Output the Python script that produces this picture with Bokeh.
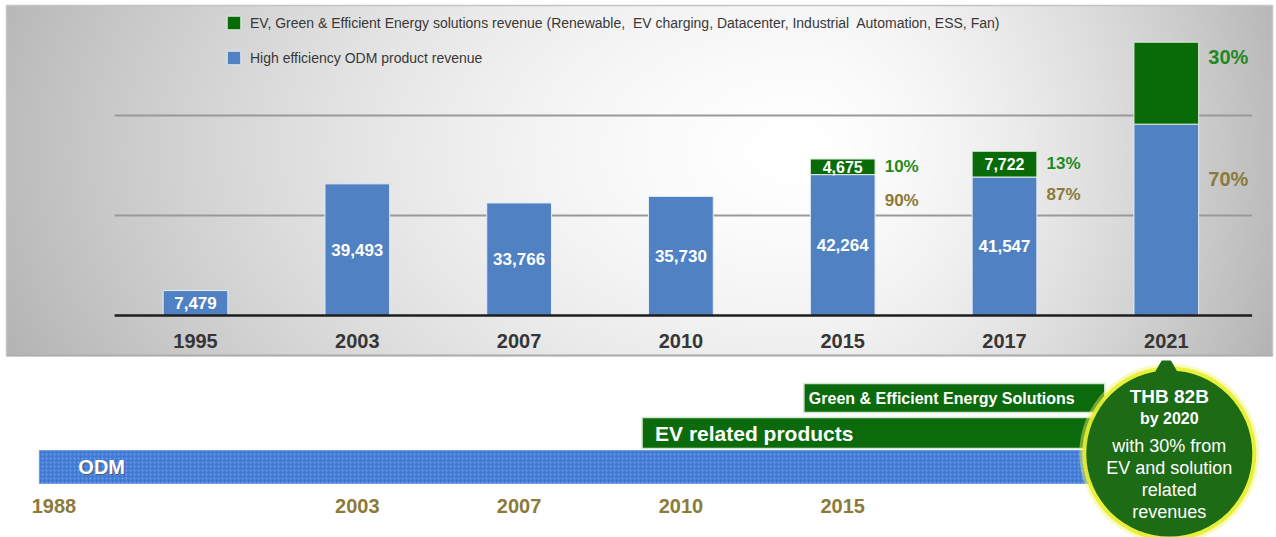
import numpy as np
from bokeh.plotting import figure
from bokeh.models import Range1d, ColumnDataSource, Legend, LegendItem
from bokeh.layouts import column
from bokeh.embed import file_html
from bokeh.resources import INLINE
from bokeh.core.properties import value

# ---------------- data ----------------
years = ["1995", "2003", "2007", "2010", "2015", "2017", "2021"]
odm_revenue = [7479, 39493, 33766, 35730, 42264, 41547, 57400]
green_revenue = [0, 0, 0, 0, 4675, 7722, 24600]
odm_labels = ["7,479", "39,493", "33,766", "35,730", "42,264", "41,547", ""]
green_labels = ["", "", "", "", "4,675", "7,722", ""]
green_share = ["", "", "", "", "10%", "13%", "30%"]
odm_share = ["", "", "", "", "90%", "87%", "70%"]
gridline_values = [30000, 60000]
legend_labels = [
    "EV, Green & Efficient Energy solutions revenue (Renewable,  EV charging, Datacenter, Industrial  Automation, ESS, Fan)",
    "High efficiency ODM product revenue",
]

timeline_years = ["1988", "2003", "2007", "2010", "2015"]
programs = ["ODM", "EV related products", "Green & Efficient Energy Solutions"]
program_start = [1988, 2010, 2015]
callout_lines = ["THB 82B", "by 2020", "with 30% from", "EV and solution", "related", "revenues"]

# ---------------- styles ----------------
FONT = value("Liberation Sans")
BLUE = "#4f81c3"
GREEN = "#086b08"
PCT_GREEN = "#1f8a1f"
OLIVE = "#8b7a3a"
CALLOUT = "#1d6b14"

W, H1, H2 = 1276, 360, 177
PX_PER_CAT = 161.8      # horizontal spacing of categories (px)
FIRST_CAT_PX = 195      # screen x of first category
BASE_PX = 315           # screen y of the zero line
VAL_PER_PX = 300        # revenue units per pixel

ix = np.arange(len(years), dtype=float)
yr = np.array([int(y) for y in years], dtype=float)


def tpos(y):
    if y < yr[0]:
        return (y - yr[0]) / (yr[1] - yr[0])
    return float(np.interp(y, yr, ix))


def px2x(px):
    return (px - FIRST_CAT_PX) / PX_PER_CAT


def py2y(py):
    return (BASE_PX - py) * VAL_PER_PX


xr = Range1d(px2x(0), px2x(W))
p1 = figure(width=W, height=H1, x_range=xr, y_range=Range1d(py2y(H1), py2y(0)),
            x_axis_type=None, y_axis_type=None, toolbar_location=None,
            output_backend="svg", min_border=0, outline_line_color=None,
            background_fill_color="white", border_fill_color="white")

# gradient panel background (box from px 6..1272, 5..355)
bx0, bx1, by0, by1 = 6, 1272, 5, 355
gh, gw = 175, 633
xs = np.linspace(bx0, bx1, gw)
ys = np.linspace(by1, by0, gh)  # row 0 = bottom
X, Y = np.meshgrid(xs, ys)
cx, cy = 800.0, 150.0
dx = np.where(X < cx, (X - cx) / (cx - bx0), (X - cx) / (bx1 - cx))
dy = (Y - cy) / 350.0
d = np.sqrt(dx ** 2 + 0.5 * dy ** 2)
inten = 1 - 0.26 * np.clip(d, 0, 1.3) ** 1.6
g = (np.clip(inten, 0, 1) * 255).astype(np.uint8)
img = np.empty((gh, gw), dtype=np.uint32)
view = img.view(dtype=np.uint8).reshape((gh, gw, 4))
view[..., 0] = g
view[..., 1] = g
view[..., 2] = g
view[..., 3] = 255
p1.image_rgba(image=[img], x=px2x(bx0), y=py2y(by1), dw=px2x(bx1) - px2x(bx0),
              dh=py2y(by0) - py2y(by1))
p1.quad(left=[px2x(bx0)], right=[px2x(bx1)], top=[py2y(by0)], bottom=[py2y(by1)],
        fill_alpha=0, line_color="#c4c4c4", line_width=1.5)
p1.segment(x0=[px2x(bx0)], x1=[px2x(bx1)], y0=[py2y(by1)], y1=[py2y(by1)],
           line_color="#adadad", line_width=2)

chart_left, chart_right = -0.5, len(years) - 0.47
p1.segment(x0=[chart_left] * len(gridline_values), x1=[chart_right] * len(gridline_values),
           y0=gridline_values, y1=gridline_values, line_color="#999999", line_width=2)

src = ColumnDataSource(dict(x=ix, odm=odm_revenue, mid=np.array(odm_revenue) / 2, lab=odm_labels))
blue_r = p1.vbar(x="x", top="odm", bottom=0, width=0.4, source=src, fill_color=BLUE,
                 line_color="#e6edf7", line_width=1)

gi = [i for i, v in enumerate(green_revenue) if v > 0]
gsrc = ColumnDataSource(dict(
    x=ix[gi], bottom=[odm_revenue[i] for i in gi],
    top=[odm_revenue[i] + green_revenue[i] for i in gi],
    mid=[odm_revenue[i] + green_revenue[i] / 2 for i in gi],
    lab=[green_labels[i] for i in gi],
    gshare=[green_share[i] for i in gi], oshare=[odm_share[i] for i in gi],
    gdy=[7, 12, 15], ody=[26, 17, 55],
    fs=["17px", "17px", "20px"],
))
green_r = p1.vbar(x="x", top="top", bottom="bottom", width=0.4, source=gsrc, fill_color=GREEN,
                  line_color="#dfeedf", line_width=1)

p1.segment(x0=[chart_left], x1=[chart_right], y0=[0], y1=[0], line_color="#1e1e1e", line_width=2.5)

p1.text(x="x", y="mid", text="lab", source=src, text_color="white", text_font=FONT,
        text_font_style="bold", text_font_size="17px", text_align="center", text_baseline="middle")
p1.text(x="x", y="mid", text="lab", source=gsrc, text_color="white", text_font=FONT,
        text_font_style="bold", text_font_size="16px", text_align="center", text_baseline="middle")
p1.text(x="x", y="top", text="gshare", source=gsrc, x_offset=42, y_offset="gdy",
        text_color=PCT_GREEN, text_font=FONT, text_font_style="bold", text_font_size="fs",
        text_align="left", text_baseline="middle")
p1.text(x="x", y="bottom", text="oshare", source=gsrc, x_offset=42, y_offset="ody",
        text_color=OLIVE, text_font=FONT, text_font_style="bold", text_font_size="fs",
        text_align="left", text_baseline="middle")
p1.text(x=ix, y=[0] * len(years), text=years, y_offset=25, text_color="#363636", text_font=FONT,
        text_font_style="bold", text_font_size="20px", text_align="center", text_baseline="middle")

legend = Legend(items=[LegendItem(label=legend_labels[0], renderers=[green_r]),
                       LegendItem(label=legend_labels[1], renderers=[blue_r])],
                location=(225, 294), orientation="vertical", glyph_width=17, glyph_height=17,
                label_height=17, spacing=18, padding=0, margin=0, border_line_color=None,
                background_fill_alpha=0, label_text_font_size="14px", label_text_font="Liberation Sans",
                label_text_color="#383838", label_standoff=8, label_text_baseline="middle")
p1.add_layout(legend)

# ---------------- timeline ----------------
p2 = figure(width=W, height=H2, x_range=xr, y_range=Range1d(H2, 0),
            x_axis_type=None, y_axis_type=None, toolbar_location=None,
            output_backend="svg", min_border=0, outline_line_color=None,
            background_fill_color="white", border_fill_color="white")

lead = [0.09, 0.24, 0.24]
row_top = [90, 57, 23]
row_bot = [123, 88, 52]
starts = [tpos(s) - l for s, l in zip(program_start, lead)]
bar_end = ix[-1] - 0.38
p2.quad(left=starts[:1], right=[bar_end], top=row_top[:1], bottom=row_bot[:1],
        fill_color="#3f7bd6", line_color="#6d9be0", line_width=1,
        hatch_pattern="dot", hatch_color="#d6e4fb", hatch_alpha=0.35, hatch_scale=4)
p2.quad(left=starts[1:], right=[bar_end] * 2, top=row_top[1:], bottom=row_bot[1:],
        fill_color="#0b6a0b", line_color="#cfe6cf", line_width=1.5)

lab_off = [39, 13, 5]
lab_fs = ["20px", "21px", "16px"]
lab_y = [(a + b) / 2 for a, b in zip(row_top, row_bot)]
p2.text(x=starts[:1], y=lab_y[:1], text=programs[:1], x_offset=lab_off[0] + 1, y_offset=1,
        text_color="#4a4a4a", text_alpha=0.7, text_font=FONT, text_font_style="bold",
        text_font_size=lab_fs[0], text_baseline="middle")
for i in range(3):
    p2.text(x=[starts[i]], y=[lab_y[i]], text=[programs[i]], x_offset=lab_off[i],
            text_color="white", text_font=FONT, text_font_style="bold",
            text_font_size=lab_fs[i], text_baseline="middle")

p2.text(x=[tpos(int(y)) for y in timeline_years], y=[145] * len(timeline_years), text=timeline_years,
        text_color=OLIVE, text_font=FONT, text_font_style="bold", text_font_size="20px",
        text_align="center", text_baseline="middle")

# callout bubble at 2021 (nudged a few px right of the category centre)
cxp, cyp = ix[-1] + 3 / PX_PER_CAT, 93
p2.scatter(x=[cxp], y=[cyp], size=180, marker="circle", fill_color="#f2f56a", fill_alpha=0.45, line_color=None)
p2.scatter(x=[cxp], y=[cyp], size=174, marker="circle", fill_color="#e6ee2a", fill_alpha=0.9, line_color=None)
p2.scatter(x=[ix[-1]], y=[7], size=26, marker="triangle", fill_color=CALLOUT, line_color=None)
p2.scatter(x=[cxp], y=[cyp], size=166, marker="circle", fill_color=CALLOUT, line_color=None)
cy_lines = [36, 58, 85.5, 107.5, 129, 151]
p2.text(x=[cxp] * 2, y=cy_lines[:2], text=callout_lines[:2], text_color="white", text_font=FONT,
        text_font_style="bold", text_font_size=["19px", "16px"], text_align="center", text_baseline="middle")
p2.text(x=[cxp] * 4, y=cy_lines[2:], text=callout_lines[2:], text_color="white", text_font=FONT,
        text_font_size="18px", text_align="center", text_baseline="middle")

layout = column(p1, p2, spacing=0)
open("out.html", "w").write(file_html(layout, INLINE))
